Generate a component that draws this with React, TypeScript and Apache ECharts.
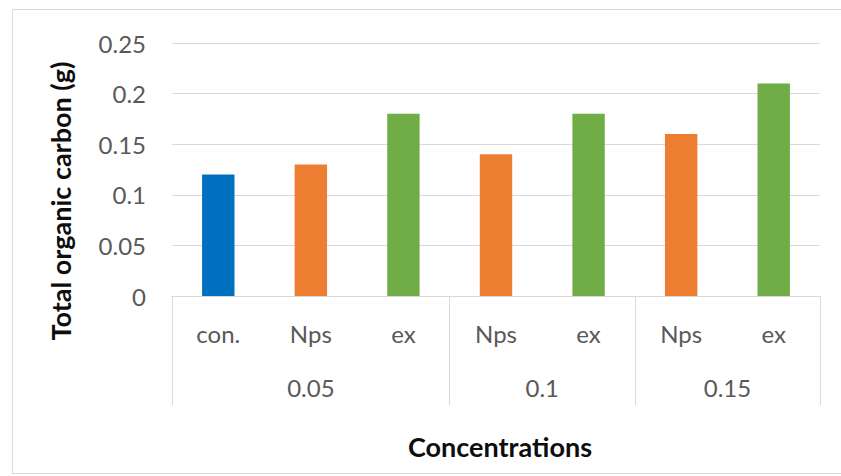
import React, { useEffect, useRef } from "react";
import * as echarts from "echarts";

const subLabels = ["con.", "Nps", "ex", "Nps", "ex", "Nps", "ex"];
const values = [0.12, 0.13, 0.18, 0.14, 0.18, 0.16, 0.21];
const groupLabels = ["0.05", "0.1", "0.15"];
const groupSizes = [3, 2, 2];
const yMin = 0;
const yMax = 0.25;
const yStep = 0.05;

const treatmentColors: Record<string, string> = {
  "con.": "#0070C0",
  Nps: "#ED7D31",
  ex: "#70AD47",
};

const FONT = "Lato";
const LABEL_SIZE = 24;
const TITLE_SIZE = 27;

export default function App() {
  const ref = useRef<HTMLDivElement>(null);

  useEffect(() => {
    if (!ref.current) return;
    const chart = echarts.init(ref.current, undefined, { renderer: "svg" });

    // half-slot axis for group labels and separators
    const total = subLabels.length;
    const halfSlots: string[] = new Array(total * 2 + 1).fill("");
    const boundaries = new Set<number>([0]);
    let start = 0;
    groupSizes.forEach((size, i) => {
      halfSlots[start * 2 + size] = groupLabels[i];
      start += size;
      boundaries.add(start * 2);
    });

    const gridPos = { left: 172, right: 21, top: 43, bottom: 180 };

    chart.setOption({
      animation: false,
      backgroundColor: "#ffffff",
      grid: [
        { ...gridPos, containLabel: false },
        { ...gridPos, containLabel: false },
      ],
      xAxis: [
        {
          type: "category",
          gridIndex: 0,
          data: subLabels,
          axisLine: { show: true, lineStyle: { color: "#d9d9d9", width: 1 } },
          axisTick: { show: false },
          axisLabel: {
            interval: 0,
            margin: 25,
            color: "#595959",
            fontFamily: FONT,
            fontSize: LABEL_SIZE,
          },
        },
        {
          type: "category",
          gridIndex: 1,
          data: halfSlots,
          boundaryGap: false,
          axisLine: { show: false },
          axisTick: {
            show: true,
            length: 109,
            interval: (index: number) => boundaries.has(index),
            lineStyle: { color: "#d9d9d9", width: 1 },
          },
          axisLabel: {
            interval: 0,
            margin: 79,
            color: "#595959",
            fontFamily: FONT,
            fontSize: LABEL_SIZE,
          },
        },
      ],
      yAxis: [
        {
          type: "value",
          gridIndex: 0,
          min: yMin,
          max: yMax,
          interval: yStep,
          axisLine: { show: false },
          axisTick: { show: false },
          splitLine: { lineStyle: { color: "#d9d9d9", width: 1 } },
          axisLabel: {
            margin: 26,
            color: "#595959",
            fontFamily: FONT,
            fontSize: LABEL_SIZE,
          },
        },
        {
          type: "value",
          gridIndex: 1,
          show: false,
          min: yMin,
          max: yMax,
        },
      ],
      graphic: [
        {
          type: "rect",
          shape: { x: 12.5, y: 9.5, width: 840, height: 464 },
          style: { fill: "none", stroke: "#d9d9d9", lineWidth: 1 },
          silent: true,
          z: -1,
        },
        {
          type: "text",
          x: 60,
          y: 201,
          rotation: Math.PI / 2,
          style: {
            text: "Total organic carbon (g)",
            fontFamily: FONT,
            fontWeight: "bold",
            fontSize: TITLE_SIZE,
            fill: "#0d0d0d",
            textAlign: "center",
            textVerticalAlign: "middle",
          },
        },
        {
          type: "text",
          x: 500,
          y: 446,
          style: {
            text: "Concentrations",
            fontFamily: FONT,
            fontWeight: "bold",
            fontSize: TITLE_SIZE,
            fill: "#0d0d0d",
            textAlign: "center",
            textVerticalAlign: "middle",
          },
        },
      ],
      series: [
        {
          type: "bar",
          xAxisIndex: 0,
          yAxisIndex: 0,
          barWidth: "35%",
          data: values.map((v, i) => ({
            value: v,
            itemStyle: { color: treatmentColors[subLabels[i]] },
          })),
        },
      ],
    });

    return () => chart.dispose();
  }, []);

  return (
    <div
      ref={ref}
      style={{ position: "fixed", left: 0, top: 0, width: 841, height: 476 }}
    />
  );
}
